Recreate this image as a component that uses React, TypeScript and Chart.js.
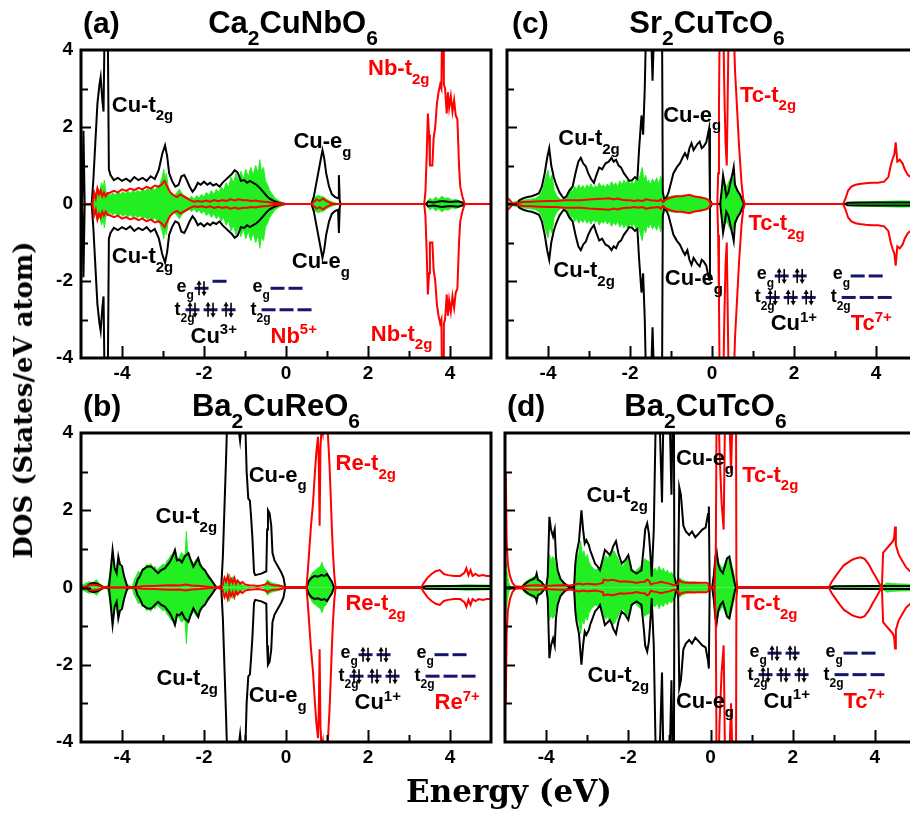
import { useEffect, useRef } from 'react';
import { Chart, registerables } from 'chart.js';

Chart.register(...registerables);

type Pair = [number, number];
type Part = [string, 'n' | 'b' | 'p'];

// Axis ticks (labelled) and tick marks (all)
const energyTicks = [-4, -2, 0, 2, 4];
const dosTicks = [-4, -2, 0, 2, 4];
const energyMarks = [-4, -3, -2, -1, 0, 1, 2, 3, 4];
const dosMarks = [-3, -2, -1, 0, 1, 2, 3];

// ---------- (a) Ca2CuNbO6 : [energy (eV), DOS (states/eV atom)] ----------
const aCu: Pair[] = [[-5,0],[-4.97,0],[-4.94,1.9],[-4.91,0],[-4.74,0],[-4.7,0.6],[-4.65,1.6],[-4.6,2.6],[-4.55,3.1],[-4.52,3.3],[-4.48,2.7],[-4.45,2.4],[-4.42,5],[-4.38,5],[-4.35,5],[-4.32,0.9],[-4.28,0.75],[-4.2,0.62],[-4.1,0.68],[-4.0,0.6],[-3.9,0.66],[-3.8,0.58],[-3.7,0.7],[-3.6,0.62],[-3.5,0.68],[-3.4,0.6],[-3.3,0.72],[-3.2,0.65],[-3.1,0.9],[-3.02,1.3],[-2.95,1.52],[-2.9,1.25],[-2.85,0.8],[-2.78,0.6],[-2.7,0.45],[-2.62,0.5],[-2.55,0.72],[-2.48,0.75],[-2.42,0.62],[-2.35,0.45],[-2.28,0.32],[-2.22,0.4],[-2.15,0.55],[-2.08,0.5],[-2.0,0.58],[-1.92,0.5],[-1.85,0.55],[-1.78,0.48],[-1.7,0.52],[-1.62,0.45],[-1.55,0.55],[-1.48,0.62],[-1.4,0.7],[-1.32,0.78],[-1.25,0.88],[-1.18,0.82],[-1.1,0.6],[-1.02,0.62],[-0.95,0.55],[-0.88,0.6],[-0.8,0.55],[-0.72,0.5],[-0.64,0.42],[-0.56,0.32],[-0.48,0.22],[-0.4,0.14],[-0.3,0.08],[-0.2,0.04],[-0.1,0.01],[0,0],[0.62,0],[0.68,0.2],[0.75,0.6],[0.82,1.0],[0.89,1.4],[0.93,1.2],[0.98,0.8],[1.05,0.45],[1.12,0.25],[1.2,0.18],[1.27,0.15],[1.29,0.75],[1.31,0.1],[1.33,0],[3.42,0],[3.46,0.06],[3.6,0.04],[3.8,0.08],[4.0,0.05],[4.2,0.07],[4.3,0.04],[4.36,0],[5,0]];
const aOx: Pair[] = [[-5,0],[-4.72,0],[-4.68,0.35],[-4.64,0.2],[-4.6,0.45],[-4.55,0.3],[-4.5,0.55],[-4.46,0.4],[-4.43,0.62],[-4.4,0.35],[-4.36,0.25],[-4.32,0.3],[-4.28,0.22],[-4.22,0.28],[-4.16,0.24],[-4.1,0.3],[-4.04,0.26],[-3.98,0.32],[-3.92,0.27],[-3.86,0.33],[-3.8,0.28],[-3.74,0.34],[-3.68,0.3],[-3.62,0.36],[-3.56,0.3],[-3.5,0.38],[-3.44,0.33],[-3.38,0.4],[-3.32,0.35],[-3.26,0.42],[-3.2,0.36],[-3.14,0.45],[-3.08,0.5],[-3.02,0.7],[-2.98,0.9],[-2.95,0.6],[-2.92,0.8],[-2.88,0.5],[-2.84,0.35],[-2.78,0.28],[-2.72,0.22],[-2.66,0.3],[-2.6,0.38],[-2.54,0.28],[-2.48,0.22],[-2.42,0.18],[-2.36,0.14],[-2.3,0.2],[-2.24,0.12],[-2.18,0.22],[-2.12,0.15],[-2.06,0.25],[-2.0,0.18],[-1.94,0.3],[-1.88,0.22],[-1.82,0.35],[-1.76,0.25],[-1.7,0.38],[-1.64,0.3],[-1.58,0.45],[-1.52,0.35],[-1.46,0.55],[-1.4,0.42],[-1.34,0.7],[-1.28,0.55],[-1.22,0.8],[-1.16,0.6],[-1.1,0.85],[-1.04,0.65],[-0.98,0.9],[-0.92,0.7],[-0.86,0.95],[-0.8,0.75],[-0.74,1.0],[-0.68,0.8],[-0.64,1.15],[-0.6,0.85],[-0.55,0.95],[-0.5,0.6],[-0.45,0.5],[-0.4,0.35],[-0.35,0.28],[-0.3,0.2],[-0.25,0.14],[-0.2,0.1],[-0.15,0.07],[-0.1,0.04],[-0.05,0.02],[0,0],[0.6,0],[0.65,0.1],[0.7,0.18],[0.78,0.22],[0.85,0.2],[0.92,0.18],[1.0,0.12],[1.1,0.06],[1.2,0.03],[1.3,0],[3.45,0],[3.5,0.15],[3.58,0.1],[3.65,0.18],[3.72,0.12],[3.8,0.2],[3.88,0.14],[3.95,0.16],[4.05,0.1],[4.15,0.12],[4.25,0.06],[4.32,0],[5,0]];
const aNb: Pair[] = [[-5,0],[-4.72,0],[-4.68,0.3],[-4.64,0.15],[-4.6,0.4],[-4.56,0.25],[-4.52,0.35],[-4.48,0.2],[-4.44,0.3],[-4.4,0.2],[-4.35,0.28],[-4.28,0.3],[-4.2,0.34],[-4.1,0.3],[-4.0,0.38],[-3.9,0.34],[-3.8,0.4],[-3.7,0.36],[-3.6,0.42],[-3.5,0.38],[-3.4,0.45],[-3.3,0.4],[-3.2,0.48],[-3.1,0.45],[-3.02,0.52],[-2.96,0.6],[-2.9,0.45],[-2.82,0.3],[-2.74,0.22],[-2.66,0.18],[-2.58,0.25],[-2.5,0.2],[-2.42,0.15],[-2.34,0.1],[-2.25,0.06],[-2.15,0.08],[-2.05,0.06],[-1.95,0.09],[-1.85,0.06],[-1.75,0.1],[-1.65,0.07],[-1.55,0.1],[-1.45,0.08],[-1.35,0.12],[-1.25,0.09],[-1.15,0.12],[-1.05,0.1],[-0.95,0.1],[-0.85,0.08],[-0.75,0.09],[-0.65,0.07],[-0.55,0.06],[-0.45,0.05],[-0.35,0.03],[-0.2,0.02],[0,0],[0.62,0],[0.68,0.06],[0.75,0.12],[0.82,0.08],[0.9,0.14],[0.98,0.08],[1.05,0.04],[1.15,0],[3.37,0],[3.4,0.3],[3.43,1.2],[3.46,2.35],[3.49,1.8],[3.51,1.0],[3.57,1.0],[3.6,1.7],[3.64,2.0],[3.68,2.6],[3.72,2.9],[3.76,3.1],[3.79,3.0],[3.81,5],[3.83,5],[3.85,3.1],[3.88,3.0],[3.92,2.35],[3.95,2.9],[3.98,2.5],[4.02,2.8],[4.06,2.4],[4.1,2.7],[4.14,2.3],[4.18,2.2],[4.22,1.0],[4.25,0.45],[4.3,0.2],[4.36,0],[5,0]];

// ---------- (c) Sr2CuTcO6 ----------
const cCu: Pair[] = [[-5,0],[-4.75,0],[-4.7,0.1],[-4.6,0.15],[-4.5,0.18],[-4.4,0.2],[-4.3,0.24],[-4.22,0.28],[-4.15,0.45],[-4.08,0.8],[-4.02,1.2],[-3.97,1.45],[-3.92,1.0],[-3.86,0.7],[-3.8,0.5],[-3.72,0.3],[-3.62,0.15],[-3.55,0.2],[-3.48,0.35],[-3.4,0.45],[-3.33,0.8],[-3.26,1.1],[-3.2,1.2],[-3.14,1.05],[-3.08,0.98],[-3.02,0.8],[-2.95,0.65],[-2.88,0.55],[-2.82,0.75],[-2.75,0.95],[-2.68,0.9],[-2.6,1.05],[-2.52,1.1],[-2.45,1.2],[-2.4,1.1],[-2.34,1.15],[-2.28,1.0],[-2.22,0.95],[-2.15,0.8],[-2.08,0.7],[-2.02,0.6],[-1.95,0.62],[-1.88,0.7],[-1.82,0.65],[-1.78,1.4],[-1.72,2.3],[-1.68,1.8],[-1.64,3.0],[-1.6,5],[-1.5,5],[-1.45,3.2],[-1.4,5],[-1.3,5],[-1.22,5],[-1.2,0.3],[-1.16,0.1],[-1.1,0.2],[-1.06,0.3],[-1.0,0.55],[-0.94,0.8],[-0.86,0.95],[-0.78,1.06],[-0.72,1.2],[-0.66,1.32],[-0.6,1.2],[-0.55,1.45],[-0.5,1.58],[-0.45,1.4],[-0.42,1.45],[-0.36,1.55],[-0.3,1.62],[-0.25,1.45],[-0.2,1.5],[-0.14,1.6],[-0.07,1.97],[-0.05,0.1],[0,0],[0.2,0],[0.24,0.4],[0.27,0.75],[0.31,0.5],[0.35,0.2],[0.4,0.3],[0.45,0.55],[0.5,0.8],[0.53,0.96],[0.56,0.5],[0.62,0.35],[0.68,0.25],[0.74,0.1],[0.78,0],[3.25,0],[3.3,0.03],[4.0,0.04],[5,0.04]];
const cOx: Pair[] = [[-5,0],[-4.95,0.05],[-4.85,0.04],[-4.75,0.08],[-4.6,0.1],[-4.45,0.12],[-4.3,0.15],[-4.2,0.22],[-4.12,0.4],[-4.05,0.7],[-4.0,0.88],[-3.96,0.6],[-3.9,0.75],[-3.85,0.35],[-3.78,0.2],[-3.7,0.12],[-3.62,0.1],[-3.55,0.2],[-3.5,0.3],[-3.45,0.42],[-3.4,0.32],[-3.35,0.45],[-3.3,0.38],[-3.25,0.5],[-3.2,0.4],[-3.15,0.48],[-3.1,0.38],[-3.05,0.5],[-3.0,0.42],[-2.95,0.52],[-2.9,0.4],[-2.85,0.48],[-2.8,0.42],[-2.75,0.55],[-2.7,0.45],[-2.65,0.5],[-2.6,0.42],[-2.55,0.52],[-2.5,0.45],[-2.45,0.58],[-2.4,0.48],[-2.35,0.55],[-2.3,0.45],[-2.25,0.6],[-2.2,0.5],[-2.15,0.62],[-2.1,0.52],[-2.05,0.65],[-2.0,0.5],[-1.95,0.6],[-1.9,0.48],[-1.85,0.68],[-1.8,0.55],[-1.75,0.75],[-1.7,0.95],[-1.66,0.6],[-1.62,0.75],[-1.58,0.55],[-1.54,0.62],[-1.5,0.5],[-1.45,0.65],[-1.4,0.55],[-1.35,0.68],[-1.3,0.52],[-1.25,0.72],[-1.2,0.4],[-1.16,0.12],[-1.1,0.18],[-1.0,0.2],[-0.9,0.22],[-0.8,0.2],[-0.7,0.22],[-0.6,0.2],[-0.5,0.22],[-0.4,0.18],[-0.3,0.2],[-0.2,0.16],[-0.1,0.14],[-0.04,0.05],[0,0],[0.2,0],[0.24,0.4],[0.28,0.62],[0.33,0.45],[0.38,0.5],[0.44,0.65],[0.5,0.7],[0.55,0.6],[0.62,0.35],[0.7,0.15],[0.78,0],[3.3,0],[3.4,0.05],[3.8,0.06],[4.2,0.07],[4.6,0.08],[5,0.07]];
const cTc: Pair[] = [[-5,0.15],[-4.95,0.12],[-4.9,0.06],[-4.85,0],[-4.8,0.02],[-4.6,0.05],[-4.4,0.06],[-4.2,0.07],[-4.0,0.08],[-3.8,0.08],[-3.6,0.1],[-3.4,0.1],[-3.2,0.1],[-3.0,0.12],[-2.8,0.13],[-2.6,0.14],[-2.5,0.15],[-2.4,0.12],[-2.3,0.14],[-2.2,0.11],[-2.1,0.1],[-2.0,0.1],[-1.9,0.08],[-1.8,0.1],[-1.7,0.08],[-1.6,0.12],[-1.5,0.1],[-1.4,0.09],[-1.3,0.08],[-1.25,0.12],[-1.2,0.05],[-1.15,0.1],[-1.05,0.15],[-0.95,0.18],[-0.85,0.2],[-0.75,0.2],[-0.65,0.22],[-0.55,0.24],[-0.45,0.2],[-0.35,0.18],[-0.25,0.16],[-0.15,0.14],[-0.08,0.1],[-0.04,0.02],[0,0],[0.13,0],[0.15,0.8],[0.17,2.5],[0.19,5],[0.27,5],[0.3,3.0],[0.33,1.6],[0.36,1.0],[0.38,2.5],[0.41,5],[0.52,5],[0.56,3.5],[0.6,2.7],[0.66,1.5],[0.72,0.55],[0.76,0.15],[0.8,0],[3.2,0],[3.26,0.15],[3.32,0.35],[3.4,0.45],[3.5,0.5],[3.6,0.52],[3.75,0.54],[3.9,0.55],[4.05,0.55],[4.2,0.58],[4.3,0.7],[4.36,1.0],[4.4,1.15],[4.45,1.3],[4.48,1.6],[4.52,1.1],[4.58,1.15],[4.65,1.05],[4.7,0.9],[4.78,0.75],[4.85,0.7],[4.95,0.65],[5,0.6]];

// ---------- (b) Ba2CuReO6 ----------
const bCu: Pair[] = [[-5,0],[-4.88,0],[-4.8,0.08],[-4.7,0.12],[-4.6,0.1],[-4.52,0.05],[-4.45,0],[-4.32,0],[-4.28,0.4],[-4.23,0.97],[-4.18,0.5],[-4.13,0.37],[-4.09,0.8],[-4.05,0.6],[-4.0,0.55],[-3.95,0.3],[-3.88,0.05],[-3.85,0],[-3.68,0],[-3.62,0.2],[-3.56,0.3],[-3.5,0.45],[-3.44,0.5],[-3.36,0.55],[-3.28,0.54],[-3.2,0.45],[-3.12,0.37],[-3.04,0.45],[-2.95,0.5],[-2.88,0.6],[-2.83,0.67],[-2.77,0.8],[-2.71,0.97],[-2.66,0.7],[-2.6,0.72],[-2.54,0.65],[-2.47,0.8],[-2.42,0.85],[-2.38,0.89],[-2.32,0.7],[-2.26,0.54],[-2.2,0.65],[-2.14,0.76],[-2.1,0.6],[-2.04,0.5],[-1.98,0.45],[-1.9,0.3],[-1.82,0.19],[-1.75,0.08],[-1.69,0],[-1.58,0],[-1.54,0.8],[-1.5,2.1],[-1.46,3.4],[-1.43,4.5],[-1.2,4.5],[-1.12,3.8],[-1.06,4.5],[-1.0,4.5],[-0.96,3.0],[-0.92,2.3],[-0.88,2.25],[-0.85,1.8],[-0.82,1.3],[-0.78,0.4],[-0.75,0.32],[-0.6,0.36],[-0.48,0.42],[-0.46,1.5],[-0.44,2.0],[-0.4,1.92],[-0.36,1.6],[-0.33,0.9],[-0.28,0.7],[-0.2,0.55],[-0.12,0.4],[-0.06,0.25],[-0.02,0],[0.5,0],[0.55,0.15],[0.62,0.25],[0.7,0.3],[0.78,0.28],[0.86,0.32],[0.94,0.3],[1.0,0.35],[1.06,0.25],[1.12,0.15],[1.17,0],[3.3,0],[3.4,0.03],[4.0,0.04],[5,0.04]];
const bOx: Pair[] = [[-5,0.05],[-4.9,0.1],[-4.8,0.15],[-4.7,0.12],[-4.62,0.2],[-4.55,0.1],[-4.48,0.05],[-4.42,0.02],[-4.35,0.05],[-4.3,0.3],[-4.25,0.7],[-4.22,0.95],[-4.18,0.5],[-4.14,0.45],[-4.1,0.75],[-4.06,0.55],[-4.02,0.5],[-3.98,0.3],[-3.92,0.15],[-3.85,0.05],[-3.75,0.02],[-3.7,0.2],[-3.65,0.3],[-3.6,0.42],[-3.55,0.38],[-3.5,0.5],[-3.45,0.48],[-3.4,0.6],[-3.35,0.55],[-3.3,0.62],[-3.25,0.5],[-3.2,0.55],[-3.15,0.45],[-3.1,0.5],[-3.05,0.55],[-3.0,0.6],[-2.95,0.58],[-2.9,0.7],[-2.85,0.75],[-2.8,0.85],[-2.75,0.82],[-2.7,1.0],[-2.65,0.75],[-2.6,0.78],[-2.55,0.9],[-2.5,0.85],[-2.46,0.85],[-2.43,1.45],[-2.4,0.9],[-2.35,0.8],[-2.3,0.7],[-2.25,0.62],[-2.2,0.72],[-2.15,0.78],[-2.1,0.65],[-2.05,0.55],[-2.0,0.5],[-1.95,0.4],[-1.9,0.35],[-1.85,0.25],[-1.8,0.15],[-1.72,0.05],[-1.65,0],[-1.55,0],[-1.5,0.15],[-1.45,0.25],[-1.42,0.2],[-1.38,0.35],[-1.34,0.15],[-1.3,0.28],[-1.26,0.12],[-1.22,0.2],[-1.17,0.1],[-1.12,0.15],[-1.06,0.06],[-1.0,0.04],[-0.9,0.02],[-0.8,0],[-0.55,0],[-0.5,0.1],[-0.45,0.2],[-0.4,0.15],[-0.35,0.12],[-0.28,0.1],[-0.2,0.08],[-0.1,0.05],[-0.03,0],[0.5,0],[0.55,0.2],[0.6,0.3],[0.66,0.4],[0.72,0.45],[0.78,0.5],[0.84,0.55],[0.88,0.65],[0.92,0.5],[0.98,0.45],[1.04,0.3],[1.1,0.15],[1.16,0],[3.3,0],[3.5,0.04],[4.0,0.05],[4.4,0.07],[5,0.06]];
const bRe: Pair[] = [[-5,0],[-4.9,0.02],[-4.8,0.06],[-4.7,0.08],[-4.6,0.06],[-4.5,0.03],[-4.4,0],[-3.7,0],[-3.5,0.03],[-3.2,0.04],[-3.0,0.05],[-2.8,0.06],[-2.6,0.05],[-2.45,0.08],[-2.3,0.05],[-2.1,0.04],[-1.9,0.02],[-1.7,0],[-1.55,0.05],[-1.5,0.25],[-1.46,0.15],[-1.42,0.3],[-1.38,0.1],[-1.34,0.22],[-1.3,0.12],[-1.26,0.25],[-1.22,0.1],[-1.18,0.18],[-1.12,0.1],[-1.06,0.14],[-1.0,0.08],[-0.9,0.06],[-0.8,0.05],[-0.7,0.04],[-0.6,0.05],[-0.5,0.08],[-0.45,0.12],[-0.4,0.08],[-0.3,0.06],[-0.2,0.05],[-0.1,0.03],[0,0],[0.5,0],[0.53,0.4],[0.57,1.0],[0.61,1.6],[0.66,2.2],[0.7,2.9],[0.74,3.5],[0.78,3.9],[0.8,3.2],[0.82,1.6],[0.84,3.6],[0.87,4.2],[0.9,4.0],[0.94,4.6],[0.97,4.3],[1.0,4.5],[1.03,3.8],[1.06,3.2],[1.09,2.4],[1.12,1.5],[1.15,0.8],[1.18,0.3],[1.21,0],[3.3,0],[3.35,0.1],[3.45,0.25],[3.55,0.35],[3.65,0.42],[3.75,0.45],[3.85,0.35],[3.95,0.32],[4.1,0.3],[4.25,0.3],[4.35,0.38],[4.4,0.5],[4.45,0.32],[4.5,0.45],[4.55,0.3],[4.62,0.35],[4.7,0.3],[4.8,0.32],[4.9,0.3],[5,0.3]];

// ---------- (d) Ba2CuTcO6 ----------
const dCu: Pair[] = [[-5,0],[-4.6,0],[-4.55,0.05],[-4.48,0.12],[-4.4,0.18],[-4.3,0.22],[-4.25,0.28],[-4.23,0.36],[-4.2,0.2],[-4.12,0.15],[-4.05,0.05],[-4.0,0],[-3.96,0.3],[-3.92,1.83],[-3.88,1.5],[-3.83,1.32],[-3.79,1.5],[-3.76,0.8],[-3.72,0.45],[-3.65,0.22],[-3.55,0.1],[-3.42,0],[-3.32,0],[-3.29,0.6],[-3.26,0.88],[-3.2,1.2],[-3.14,2.0],[-3.1,1.5],[-3.06,1.14],[-3.02,1.23],[-2.96,1.1],[-2.93,0.97],[-2.87,0.8],[-2.81,0.62],[-2.75,0.55],[-2.69,0.45],[-2.63,0.7],[-2.57,0.97],[-2.5,0.9],[-2.45,0.84],[-2.4,0.95],[-2.37,1.06],[-2.3,1.2],[-2.24,0.88],[-2.16,0.62],[-2.08,0.7],[-2.0,0.84],[-1.95,0.6],[-1.92,0.45],[-1.86,0.4],[-1.8,0.36],[-1.74,0.4],[-1.68,0.45],[-1.62,1.1],[-1.59,1.5],[-1.54,1.66],[-1.5,1.4],[-1.47,0.97],[-1.43,0.28],[-1.38,1.5],[-1.33,4.5],[-1.25,4.8],[-1.18,2.2],[-1.14,4.8],[-1.0,4.8],[-0.95,2.4],[-0.92,4.5],[-0.89,4.5],[-0.88,0.3],[-0.84,0.1],[-0.79,0],[-0.76,2.6],[-0.72,2.4],[-0.66,1.6],[-0.6,1.45],[-0.52,1.36],[-0.45,1.45],[-0.37,1.3],[-0.28,1.4],[-0.2,1.5],[-0.12,1.55],[-0.06,1.9],[-0.04,2.1],[-0.02,0],[0.04,0],[0.08,0.3],[0.12,0.8],[0.15,0.93],[0.19,0.6],[0.24,0.45],[0.3,0.37],[0.35,0.55],[0.4,0.75],[0.46,0.8],[0.5,0.55],[0.55,0.3],[0.6,0.05],[0.62,0],[2.9,0],[3.0,0.03],[4.0,0.04],[5,0.04]];
const dOx: Pair[] = [[-5,0.9],[-4.97,0.6],[-4.94,0.3],[-4.9,0.1],[-4.85,0],[-4.6,0],[-4.55,0.1],[-4.5,0.15],[-4.42,0.2],[-4.35,0.25],[-4.28,0.28],[-4.22,0.25],[-4.15,0.2],[-4.08,0.12],[-4.02,0.04],[-3.98,0],[-3.95,0.4],[-3.92,0.85],[-3.88,0.7],[-3.84,0.8],[-3.8,0.75],[-3.76,0.5],[-3.7,0.3],[-3.62,0.15],[-3.52,0.06],[-3.42,0],[-3.32,0],[-3.29,0.5],[-3.25,0.8],[-3.2,0.9],[-3.16,1.2],[-3.12,0.85],[-3.08,0.95],[-3.04,0.75],[-3.0,0.85],[-2.95,0.65],[-2.9,0.55],[-2.85,0.5],[-2.8,0.45],[-2.75,0.48],[-2.7,0.42],[-2.65,0.55],[-2.6,0.7],[-2.55,0.82],[-2.5,0.75],[-2.45,0.85],[-2.4,0.9],[-2.35,0.95],[-2.3,0.85],[-2.25,0.75],[-2.2,0.62],[-2.15,0.55],[-2.1,0.6],[-2.05,0.72],[-2.0,0.75],[-1.95,0.55],[-1.9,0.45],[-1.85,0.4],[-1.8,0.45],[-1.75,0.5],[-1.7,0.55],[-1.65,0.62],[-1.6,0.75],[-1.55,0.7],[-1.5,0.68],[-1.45,0.6],[-1.4,0.45],[-1.35,0.5],[-1.3,0.4],[-1.25,0.55],[-1.2,0.42],[-1.15,0.5],[-1.1,0.38],[-1.05,0.45],[-1.0,0.35],[-0.95,0.4],[-0.9,0.3],[-0.85,0.2],[-0.8,0.12],[-0.75,0.25],[-0.7,0.2],[-0.6,0.16],[-0.5,0.14],[-0.4,0.13],[-0.3,0.12],[-0.2,0.1],[-0.1,0.08],[-0.04,0.02],[0,0],[0.04,0],[0.08,0.4],[0.12,0.75],[0.16,0.85],[0.2,0.65],[0.25,0.55],[0.3,0.5],[0.36,0.65],[0.42,0.8],[0.48,0.75],[0.54,0.5],[0.58,0.3],[0.62,0],[2.9,0],[3.2,0.03],[3.8,0.04],[4.2,0.06],[4.3,0.12],[4.4,0.1],[4.6,0.09],[5,0.08]];
const dTc: Pair[] = [[-5,3.0],[-4.98,2.96],[-4.96,1.2],[-4.93,0.6],[-4.88,0.3],[-4.82,0.12],[-4.75,0.03],[-4.6,0.02],[-4.4,0.05],[-4.2,0.06],[-4.0,0.04],[-3.8,0.05],[-3.6,0.06],[-3.4,0.05],[-3.3,0.08],[-3.2,0.1],[-3.1,0.08],[-3.0,0.1],[-2.9,0.09],[-2.8,0.08],[-2.7,0.1],[-2.62,0.12],[-2.6,0.2],[-2.5,0.18],[-2.4,0.2],[-2.3,0.18],[-2.2,0.15],[-2.1,0.16],[-2.0,0.15],[-1.9,0.14],[-1.8,0.12],[-1.7,0.14],[-1.6,0.15],[-1.55,0.2],[-1.5,0.18],[-1.45,0.08],[-1.4,0.1],[-1.3,0.12],[-1.2,0.15],[-1.1,0.12],[-1.0,0.1],[-0.9,0.06],[-0.8,0.08],[-0.75,0.18],[-0.7,0.14],[-0.6,0.12],[-0.5,0.12],[-0.4,0.13],[-0.3,0.12],[-0.2,0.12],[-0.1,0.12],[-0.06,0.1],[-0.03,0.02],[0,0],[0.1,0],[0.13,1.0],[0.15,5],[0.19,5],[0.22,3.5],[0.27,2.2],[0.32,1.5],[0.36,5],[0.44,5],[0.5,3.0],[0.55,5],[0.62,5],[0.63,0.3],[0.65,0],[2.88,0],[2.95,0.15],[3.05,0.3],[3.15,0.45],[3.25,0.58],[3.35,0.65],[3.45,0.72],[3.55,0.76],[3.65,0.78],[3.75,0.74],[3.85,0.6],[3.95,0.4],[4.05,0.22],[4.12,0.08],[4.17,0],[4.2,0.9],[4.28,1.0],[4.36,1.1],[4.44,1.2],[4.47,1.3],[4.49,1.58],[4.51,1.1],[4.58,0.85],[4.66,0.7],[4.76,0.52],[4.86,0.42],[5,0.35]];

// ---------- drawing styles ----------
const SANS = '"Liberation Sans", Arial, Helvetica, sans-serif';
const SERIF = '"DejaVu Serif", "Liberation Serif", serif';
const RED = '#ff0000';
const BLACK = '#000000';
const GREEN = '#22ee22';
const NAVY = '#16166e';
const PAD_T = 45;
const PAD_R = 8;
const AXIS_H = 34;

interface Note { at: Pair; parts: Part[]; color: string }
interface Levels { at: Pair; cuEgFilled: boolean[]; cuEgLift: number[]; cu: Part[]; b: Part[] }
interface PanelSpec {
  tag: string; formula: Part[];
  cu: Pair[]; ox: Pair[]; bs: Pair[];
  notes: Note[]; levels: Levels;
  left: number; top: number; width: number; height: number;
  yLabels: boolean; titleShift: number; tagShift: number;
}

const cuT: Part[] = [['Cu-t', 'n'], ['2g', 'b']];
const cuE: Part[] = [['Cu-e', 'n'], ['g', 'b']];
const bT = (el: string): Part[] => [[el + '-t', 'n'], ['2g', 'b']];
const formula = (a: string, b: string): Part[] => [[a, 'n'], ['2', 'b'], [b, 'n'], ['6', 'b']];

const panels: PanelSpec[] = [
  {
    tag: '(a)', formula: formula('Ca', 'CuNbO'), cu: aCu, ox: aOx, bs: aNb,
    notes: [
      { at: [-4.25, 2.4], parts: cuT, color: BLACK },
      { at: [-4.25, -1.54], parts: cuT, color: BLACK },
      { at: [0.18, 1.45], parts: cuE, color: BLACK },
      { at: [0.14, -1.67], parts: cuE, color: BLACK },
      { at: [2.0, 3.35], parts: bT('Nb'), color: RED },
      { at: [2.07, -3.55], parts: bT('Nb'), color: RED },
    ],
    levels: { at: [-2.67, -2.28], cuEgFilled: [true, false], cuEgLift: [0, 7], cu: [['Cu', 'n'], ['3+', 'p']], b: [['Nb', 'n'], ['5+', 'p']] },
    left: 81, top: 50, width: 410, height: 308, yLabels: true, titleShift: 7, tagShift: 2,
  },
  {
    tag: '(c)', formula: formula('Sr', 'CuTcO'), cu: cCu, ox: cOx, bs: cTc,
    notes: [
      { at: [-3.75, 1.53], parts: cuT, color: BLACK },
      { at: [-3.87, -1.89], parts: cuT, color: BLACK },
      { at: [-1.19, 2.14], parts: cuE, color: BLACK },
      { at: [-1.15, -2.1], parts: cuE, color: BLACK },
      { at: [0.68, 2.66], parts: bT('Tc'), color: RED },
      { at: [0.89, -0.68], parts: bT('Tc'), color: RED },
    ],
    levels: { at: [1.09, -1.96], cuEgFilled: [true, true], cuEgLift: [0, 0], cu: [['Cu', 'n'], ['1+', 'p']], b: [['Tc', 'n'], ['7+', 'p']] },
    left: 507, top: 50, width: 410, height: 308, yLabels: false, titleShift: -5, tagShift: 5,
  },
  {
    tag: '(b)', formula: formula('Ba', 'CuReO'), cu: bCu, ox: bOx, bs: bRe,
    notes: [
      { at: [-3.18, 1.66], parts: cuT, color: BLACK },
      { at: [-3.16, -2.53], parts: cuT, color: BLACK },
      { at: [-0.91, 2.74], parts: cuE, color: BLACK },
      { at: [-0.91, -2.96], parts: cuE, color: BLACK },
      { at: [1.21, 3.04], parts: bT('Re'), color: RED },
      { at: [1.45, -0.58], parts: bT('Re'), color: RED },
    ],
    levels: { at: [1.33, -1.83], cuEgFilled: [true, true], cuEgLift: [0, 0], cu: [['Cu', 'n'], ['1+', 'p']], b: [['Re', 'n'], ['7+', 'p']] },
    left: 81, top: 433, width: 410, height: 309, yLabels: true, titleShift: -10, tagShift: 2,
  },
  {
    tag: '(d)', formula: formula('Ba', 'CuTcO'), cu: dCu, ox: dOx, bs: dTc,
    notes: [
      { at: [-3.02, 2.22], parts: cuT, color: BLACK },
      { at: [-2.99, -2.44], parts: cuT, color: BLACK },
      { at: [-0.84, 3.17], parts: cuE, color: BLACK },
      { at: [-0.84, -3.13], parts: cuE, color: BLACK },
      { at: [0.77, 2.74], parts: bT('Tc'), color: RED },
      { at: [0.75, -0.58], parts: bT('Tc'), color: RED },
    ],
    levels: { at: [0.95, -1.79], cuEgFilled: [true, true], cuEgLift: [0, 0], cu: [['Cu', 'n'], ['1+', 'p']], b: [['Tc', 'n'], ['7+', 'p']] },
    left: 505, top: 433, width: 411, height: 309, yLabels: false, titleShift: -5, tagShift: 2,
  },
];

// ---------- canvas text helpers ----------
function richWidth(ctx: CanvasRenderingContext2D, parts: Part[], size: number) {
  let w = 0;
  for (const [t, k] of parts) {
    const fs = k === 'n' ? size : Math.round(size * 0.68);
    ctx.font = `bold ${fs}px ${SANS}`;
    w += ctx.measureText(t).width;
  }
  return w;
}

function drawRich(ctx: CanvasRenderingContext2D, x: number, y: number, parts: Part[], size: number, color: string) {
  let cx = x;
  ctx.fillStyle = color;
  ctx.textAlign = 'left';
  ctx.textBaseline = 'alphabetic';
  for (const [t, k] of parts) {
    const fs = k === 'n' ? size : Math.round(size * 0.68);
    const dy = k === 'b' ? size * 0.4 : k === 'p' ? -size * 0.38 : 0;
    ctx.font = `bold ${fs}px ${SANS}`;
    ctx.fillText(t, cx, y + dy);
    cx += ctx.measureText(t).width;
  }
}

function spinPair(ctx: CanvasRenderingContext2D, cx: number, cy: number) {
  ctx.strokeStyle = BLACK;
  ctx.fillStyle = BLACK;
  ctx.lineWidth = 1.6;
  const ux = cx - 2.5;
  ctx.beginPath(); ctx.moveTo(ux, cy + 7); ctx.lineTo(ux, cy - 4); ctx.stroke();
  ctx.beginPath(); ctx.moveTo(ux, cy - 8); ctx.lineTo(ux - 2.6, cy - 3.5); ctx.lineTo(ux + 2.6, cy - 3.5); ctx.closePath(); ctx.fill();
  const dx = cx + 2.5;
  ctx.beginPath(); ctx.moveTo(dx, cy - 7); ctx.lineTo(dx, cy + 4); ctx.stroke();
  ctx.beginPath(); ctx.moveTo(dx, cy + 8); ctx.lineTo(dx - 2.6, cy + 3.5); ctx.lineTo(dx + 2.6, cy + 3.5); ctx.closePath(); ctx.fill();
}

function levelDash(ctx: CanvasRenderingContext2D, x: number, y: number, filled: boolean) {
  ctx.strokeStyle = NAVY;
  ctx.lineWidth = 3;
  ctx.beginPath(); ctx.moveTo(x, y); ctx.lineTo(x + 14, y); ctx.stroke();
  if (filled) spinPair(ctx, x + 7, y);
}

function drawLevels(ctx: CanvasRenderingContext2D, chart: Chart, lv: Levels) {
  const xs = chart.scales.x;
  const ys = chart.scales.y;
  const L = xs.getPixelForValue(lv.at[0]);
  const B = ys.getPixelForValue(lv.at[1]);
  const groups = [
    { x0: L, eg: lv.cuEgFilled, t2: [true, true, true], lift: lv.cuEgLift, name: lv.cu, color: BLACK, nameDx: 14 },
    { x0: L + 76, eg: [false, false], t2: [false, false, false], lift: [0, 0], name: lv.b, color: RED, nameDx: 18 },
  ];
  for (const g of groups) {
    drawRich(ctx, g.x0, B, [['e', 'n'], ['g', 'b']], 18, BLACK);
    drawRich(ctx, g.x0 - 2, B + 23, [['t', 'n'], ['2g', 'b']], 18, BLACK);
    g.eg.forEach((f, i) => levelDash(ctx, g.x0 + 18 + i * 18, B - 3.5 - g.lift[i], f));
    g.t2.forEach((f, i) => levelDash(ctx, g.x0 + 9 + i * 18, B + 18, f));
    drawRich(ctx, g.x0 + g.nameDx, B + 51, g.name, 22, g.color);
  }
}

function decorPlugin(spec: PanelSpec) {
  return {
    id: 'dosDecor',
    afterDraw(chart: Chart) {
      const ctx = chart.ctx;
      const { left, right, top, bottom } = chart.chartArea;
      const xs = chart.scales.x;
      const ys = chart.scales.y;
      ctx.save();
      // inward tick marks
      ctx.strokeStyle = BLACK;
      ctx.lineWidth = 2;
      for (const e of energyMarks) {
        const px = Math.round(xs.getPixelForValue(e)) + 0.5;
        const len = e % 2 === 0 ? 12 : 7;
        ctx.beginPath(); ctx.moveTo(px, bottom); ctx.lineTo(px, bottom - len); ctx.stroke();
      }
      for (const d of dosMarks) {
        const py = Math.round(ys.getPixelForValue(d)) + 0.5;
        const len = d % 2 === 0 ? 10 : 7;
        ctx.beginPath(); ctx.moveTo(left, py); ctx.lineTo(left + len, py); ctx.stroke();
      }
      // frame
      ctx.lineWidth = 3;
      ctx.strokeRect(left, top, right - left, bottom - top);
      // curve labels
      for (const n of spec.notes) {
        drawRich(ctx, xs.getPixelForValue(n.at[0]), ys.getPixelForValue(n.at[1]), n.parts, 22, n.color);
      }
      drawLevels(ctx, chart, spec.levels);
      // panel tag and compound name
      drawRich(ctx, left + spec.tagShift, top - 17, [[spec.tag, 'n']], 30, BLACK);
      const w = richWidth(ctx, spec.formula, 31);
      drawRich(ctx, (left + right) / 2 + spec.titleShift - w / 2, top - 17, spec.formula, 31, BLACK);
      ctx.restore();
    },
  };
}

const spinUp = (d: Pair[]) => d.map(([x, y]) => ({ x, y }));
const spinDown = (d: Pair[]) => d.map(([x, y]) => ({ x, y: -y }));

function lineSet(data: { x: number; y: number }[], color: string) {
  return { data, borderColor: color, borderWidth: 2, pointRadius: 0, fill: false, tension: 0 };
}
function fillSet(data: { x: number; y: number }[]) {
  return { data, borderColor: GREEN, backgroundColor: GREEN, borderWidth: 1, pointRadius: 0, fill: 'origin', tension: 0 };
}

function DosPanel({ spec }: { spec: PanelSpec }) {
  const ref = useRef<HTMLCanvasElement>(null);
  const axisW = spec.yLabels ? 50 : 8;
  const cw = axisW + spec.width + PAD_R;
  const ch = PAD_T + spec.height + AXIS_H;

  useEffect(() => {
    const tickFont = { family: SANS, size: 19, weight: 'bold' as const };
    const chart = new Chart(ref.current as HTMLCanvasElement, {
      type: 'line',
      data: {
        datasets: [
          lineSet(spinUp(spec.bs), RED),
          lineSet(spinDown(spec.bs), RED),
          lineSet(spinUp(spec.cu), BLACK),
          lineSet(spinDown(spec.cu), BLACK),
          fillSet(spinUp(spec.ox)),
          fillSet(spinDown(spec.ox)),
        ] as any,
      },
      options: {
        animation: false,
        responsive: false,
        maintainAspectRatio: false,
        events: [],
        layout: { padding: { top: PAD_T, right: PAD_R, left: 0, bottom: 0 } },
        plugins: { legend: { display: false }, tooltip: { enabled: false } },
        scales: {
          x: {
            type: 'linear', min: -5, max: 5,
            grid: { display: false, drawTicks: false },
            border: { display: false },
            afterBuildTicks: (s: any) => { s.ticks = energyTicks.map((value) => ({ value })); },
            afterFit: (s: any) => { s.height = AXIS_H; },
            ticks: { padding: 4, color: BLACK, font: tickFont, autoSkip: false, maxRotation: 0, callback: (v: any) => String(v) },
          },
          y: {
            type: 'linear', min: -4, max: 4,
            grid: { display: false, drawTicks: false },
            border: { display: false },
            afterBuildTicks: (s: any) => { s.ticks = dosTicks.map((value) => ({ value })); },
            afterFit: (s: any) => { s.width = axisW; },
            ticks: { display: spec.yLabels, padding: 8, color: BLACK, font: tickFont, callback: (v: any) => String(v) },
          },
        },
      } as any,
      plugins: [decorPlugin(spec)],
    });
    return () => chart.destroy();
  }, [spec, axisW]);

  return (
    <canvas
      ref={ref}
      width={cw}
      height={ch}
      style={{ position: 'absolute', left: spec.left - axisW, top: spec.top - PAD_T, width: cw, height: ch }}
    />
  );
}

export default function App() {
  return (
    <div style={{ position: 'fixed', left: 0, top: 0, width: 910, height: 814, overflow: 'hidden', background: '#ffffff' }}>
      {panels.map((p) => (
        <DosPanel key={p.tag} spec={p} />
      ))}
      <div
        style={{
          position: 'absolute', left: 509, top: 776, transform: 'translateX(-50%)',
          font: `bold 31px ${SERIF}`, lineHeight: '30px', whiteSpace: 'nowrap', color: BLACK,
        }}
      >
        Energy (eV)
      </div>
      <div
        style={{
          position: 'absolute', left: 23, top: 400, transform: 'translate(-50%, -50%) rotate(-90deg)',
          font: `bold 26px ${SERIF}`, lineHeight: '30px', whiteSpace: 'nowrap', color: BLACK,
        }}
      >
        DOS (States/eV atom)
      </div>
    </div>
  );
}
